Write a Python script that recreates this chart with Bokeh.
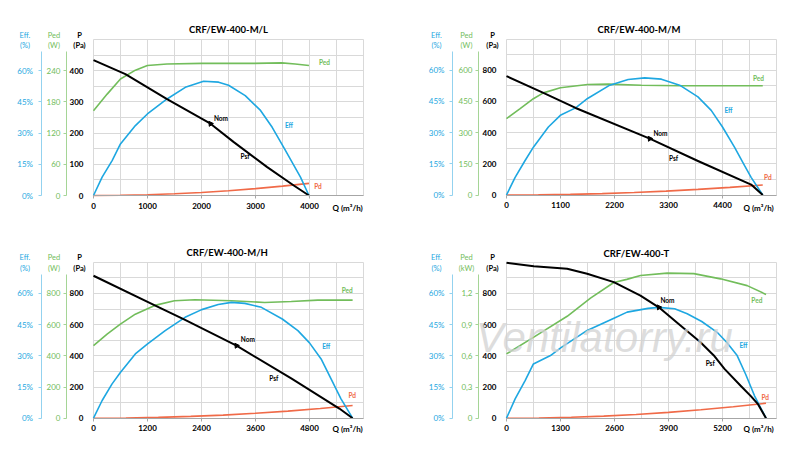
from bokeh.plotting import figure
from bokeh.models import Range1d, LinearAxis, FixedTicker, Label
from bokeh.layouts import column, row
from bokeh.embed import file_html
from bokeh.resources import INLINE

FONT = "Lato"
C_EFF = "#1ea7e1"
C_PED = "#72bd5b"
C_PD = "#f06a48"
C_PSF = "#000000"
GRID = "#d9d9d9"

# ---------------- data ----------------
titles = ["CRF/EW-400-M/L", "CRF/EW-400-M/M", "CRF/EW-400-M/H", "CRF/EW-400-T"]
ped_units = ["(W)", "(W)", "(W)", "(kW)"]

# Chart 1: CRF/EW-400-M/L
c1_q_psf = [0, 591, 1362, 2167, 2598, 3217, 3709, 3990]
c1_psf = [434, 389, 309, 230, 171, 91, 32, 0]
c1_q_eff = [0, 160, 345, 499, 776, 998, 1362, 1700, 2039, 2317, 2501, 2810, 3093, 3309, 3525, 3833, 3990]
c1_eff = [0, 8.8, 16.8, 24.8, 33.6, 39.2, 46.4, 52, 54.9, 54.5, 53, 48, 40.9, 32.8, 23, 8.8, 0]
c1_q_ped = [0, 253, 499, 776, 998, 1362, 2008, 2933, 3487, 3734, 3990]
c1_ped = [163, 195, 224, 241, 250, 253, 254, 254, 255, 253, 250]
c1_q_pd = [0, 500, 1000, 1500, 2000, 2500, 3000, 3500, 3990]
c1_pd = [0, 0.6, 2.4, 5.5, 9.8, 15.2, 22, 30, 39]
c1_nom = [2167, 230]

# Chart 2: CRF/EW-400-M/M
c2_q_psf = [0, 751, 1408, 2918, 3900, 4983, 5220]
c2_psf = [762, 655, 558, 361, 218, 67, 0]
c2_q_eff = [0, 176, 379, 548, 853, 1097, 1408, 1652, 2105, 2478, 2816, 3155, 3527, 3900, 4170, 4400, 4644, 4847, 4983, 5220]
c2_eff = [0, 8.5, 16.6, 23, 32.7, 38.3, 41.9, 46.4, 52.8, 55.5, 56.3, 55.7, 52.8, 47.2, 40.7, 32.7, 23, 14.2, 8.5, 0]
c2_q_ped = [0, 278, 548, 751, 1097, 1652, 2072, 2749, 3527, 5220]
c2_ped = [367, 415, 463, 491, 516, 531, 533, 528, 525, 525]
c2_q_pd = [0, 650, 1300, 1950, 2600, 3250, 3900, 4550, 5220]
c2_pd = [0, 1, 4, 9, 16, 25, 36, 49, 64]
c2_nom = [2918, 361]

# Chart 3: CRF/EW-400-M/H
c3_q_psf = [0, 1386, 2035, 3178, 4394, 5463, 5758]
c3_psf = [913, 720, 630, 465, 255, 62, 0]
c3_q_eff = [0, 192, 413, 597, 929, 1202, 1593, 2035, 2404, 2772, 3067, 3362, 3731, 4195, 4542, 4800, 5058, 5279, 5500, 5758]
c3_eff = [0, 8.5, 16.5, 22, 30.9, 35.7, 42.1, 48.5, 52.2, 54.7, 55.7, 55.2, 53.3, 47.7, 42.1, 36.2, 28.5, 18.9, 9.3, 0]
c3_q_ped = [0, 302, 597, 929, 1386, 1799, 2256, 3067, 3804, 4394, 4984, 5758]
c3_ped = [465, 539, 603, 667, 725, 753, 759, 753, 742, 748, 757, 757]
c3_q_pd = [0, 720, 1440, 2160, 2880, 3600, 4320, 5040, 5758]
c3_pd = [0, 1.3, 5, 11.4, 20, 32, 45.5, 62, 81]
c3_nom = [3178, 465]

# Chart 4: CRF/EW-400-T
c4_q_psf = [0, 657, 1461, 1942, 2583, 3225, 3666, 4188, 4670, 4991, 5248, 5648, 5888, 6048, 6248]
c4_psf = [996, 974, 958, 926, 872, 786, 711, 594, 487, 402, 316, 205, 140, 92, 0]
c4_q_eff = [0, 208, 448, 648, 1059, 1304, 1942, 2600, 2904, 3408, 3666, 4048, 4350, 4700, 5071, 5300, 5553, 5760, 5968, 6248]
c4_eff = [0, 9.3, 18.1, 26.1, 30.1, 33.8, 42.2, 48.2, 51, 52.8, 53.3, 52.6, 50.2, 46.5, 41.3, 36.5, 30.1, 21, 10.9, 0]
c4_q_ped = [0, 657, 1461, 2022, 2583, 2896, 3225, 3868, 4510, 5151, 5794, 6248]
c4_ped = [0.618, 0.78, 0.98, 1.155, 1.305, 1.335, 1.372, 1.395, 1.39, 1.34, 1.275, 1.19]
c4_q_pd = [0, 780, 1560, 2340, 3120, 3900, 4680, 5460, 6248]
c4_pd = [0, 1.5, 6, 13.5, 24, 37.5, 54, 73, 96]
c4_nom = [3666, 711]

# axes (ticks / ranges)
q_max = [5000, 5500, 6000, 6500]
q_ticks = [[0, 1000, 2000, 3000, 4000], [0, 1100, 2200, 3300, 4400],
           [0, 1200, 2400, 3600, 4800], [0, 1300, 2600, 3900, 5200]]
q_step_grid = [500, 550, 600, 650]
p_max = [500, 1000, 1000, 1000]
p_ticks = [[0, 100, 200, 300, 400], [0, 200, 400, 600, 800],
           [0, 200, 400, 600, 800], [0, 200, 400, 600, 800]]
p_step_grid = [50, 100, 100, 100]
ped_max = [300, 750, 1000, 1.5]
ped_ticks = [[0, 60, 120, 180, 240], [0, 150, 300, 450, 600],
             [0, 200, 400, 600, 800], [0, 0.3, 0.6, 0.9, 1.2]]
ped_tick_labels = [["0", "60", "120", "180", "240"], ["0", "150", "300", "450", "600"],
                   ["0", "200", "400", "600", "800"], ["0", "0,3", "0,6", "0,9", "1,2"]]
eff_max = 75
eff_ticks = [0, 15, 30, 45, 60]
eff_tick_labels = ["0%", "15%", "30%", "45%", "60%"]

# ---------------- layout (page pixel positions) ----------------
FW, FH = 270, 156
fig_box = [(0, 0, 400, 225), (400, 0, 392, 225), (0, 225, 400, 218), (400, 225, 392, 218)]
frame_origin = [(93, 195), (506, 194.5), (93, 417.7), (506, 417.7)]   # page x of Q=0, page y of P=0
axis_lines = [(66, 40.5), (478, 452), (66, 40.5), (478, 452)]  # Ped, Eff axis page x
text_pos = [
    dict(title=(228, 28.5), eff=(24.5, 34.5), ped=(53.5, 34.5), p=(79, 34.5), q=(332, 207),
         lped=(324, 62), leff=(288.5, 125), lnom=(220.5, 118), lpsf=(244.5, 156), lpd=(317.5, 185.7)),
    dict(title=(638.5, 29), eff=(436, 34.5), ped=(466, 34.5), p=(492, 34.5), q=(743, 207),
         lped=(758, 77.7), leff=(728, 110), lnom=(660, 133.3), lpsf=(673, 158.3), lpd=(767.3, 176.7)),
    dict(title=(226.7, 251.7), eff=(24.5, 257.3), ped=(53.5, 257.3), p=(79, 257.3), q=(332, 428.3),
         lped=(346.7, 290), leff=(325.7, 345.7), lnom=(247.3, 339), lpsf=(273.3, 377.7), lpd=(351.7, 395)),
    dict(title=(635.8, 253.3), eff=(436, 257.3), ped=(466, 257.3), p=(492, 257.3), q=(743, 428.3),
         lped=(756.3, 300), leff=(743, 345), lnom=(667, 300), lpsf=(709.7, 363.3), lpd=(764.7, 396.7)),
]
UNIT_DY = 10.5

series = [
    (c1_q_psf, c1_psf, c1_q_eff, c1_eff, c1_q_ped, c1_ped, c1_q_pd, c1_pd, c1_nom),
    (c2_q_psf, c2_psf, c2_q_eff, c2_eff, c2_q_ped, c2_ped, c2_q_pd, c2_pd, c2_nom),
    (c3_q_psf, c3_psf, c3_q_eff, c3_eff, c3_q_ped, c3_ped, c3_q_pd, c3_pd, c3_nom),
    (c4_q_psf, c4_psf, c4_q_eff, c4_eff, c4_q_ped, c4_ped, c4_q_pd, c4_pd, c4_nom),
]


def style_axis(ax, color, bold, line_color, tick_color, standoff):
    ax.axis_line_color = line_color
    ax.major_tick_line_color = tick_color
    ax.minor_tick_line_color = None
    ax.major_tick_out = 3
    ax.major_tick_in = 0
    ax.major_label_standoff = standoff
    ax.major_label_text_font = FONT
    ax.major_label_text_font_size = "8px"
    ax.major_label_text_font_style = "bold" if bold else "normal"
    ax.major_label_text_color = color


def make_chart(i):
    ox, oy, w, h = fig_box[i]
    L, B = frame_origin[i]
    qm, pm = q_max[i], p_max[i]

    def dx(px):
        return (px - L) / FW * qm

    def dy(py):
        return (B - py) / FH * pm

    y0, y1 = dy(oy + h), dy(oy)
    p = figure(frame_width=w, frame_height=h,
               x_range=Range1d(dx(ox), dx(ox + w)), y_range=Range1d(y0, y1),
               output_backend="svg", toolbar_location=None,
               min_border_left=0, min_border_right=0, min_border_top=0, min_border_bottom=0,
               outline_line_color=None)
    rp = ped_max[i] / pm
    re = eff_max / pm
    p.extra_y_ranges = {"ped": Range1d(y0 * rp, y1 * rp), "eff": Range1d(y0 * re, y1 * re)}

    # grid limited to the plotting area
    p.xgrid.ticker = FixedTicker(ticks=list(range(0, qm + 1, q_step_grid[i])))
    p.ygrid.ticker = FixedTicker(ticks=list(range(0, pm + 1, p_step_grid[i])))
    p.xgrid.bounds = (0, qm)
    p.xgrid.cross_bounds = (0, pm)
    p.ygrid.bounds = (0, pm)
    p.ygrid.cross_bounds = (0, qm)
    p.xgrid.grid_line_color = GRID
    p.ygrid.grid_line_color = GRID

    # x axis
    xa = p.xaxis[0]
    xa.fixed_location = 0
    xa.bounds = (0, qm)
    xa.ticker = FixedTicker(ticks=q_ticks[i])
    style_axis(xa, "#000000", True, "#a6a6a6", "#a6a6a6", 4)

    # P axis
    ya = p.yaxis[0]
    ya.fixed_location = 0
    ya.bounds = (0, pm)
    ya.ticker = FixedTicker(ticks=p_ticks[i])
    style_axis(ya, "#000000", True, None, None, 7)

    ped_x, eff_x = axis_lines[i]
    top_p = dy(text_pos[i]["eff"][1] + UNIT_DY + 6)

    pa = LinearAxis(y_range_name="ped", ticker=FixedTicker(ticks=ped_ticks[i]),
                    major_label_overrides={t: s for t, s in zip(ped_ticks[i], ped_tick_labels[i])},
                    fixed_location=dx(ped_x), bounds=(0, top_p * rp))
    style_axis(pa, C_PED, False, "#a5d596", "#a5d596", 3)
    p.add_layout(pa, "left")

    ea = LinearAxis(y_range_name="eff", ticker=FixedTicker(ticks=eff_ticks),
                    major_label_overrides={t: s for t, s in zip(eff_ticks, eff_tick_labels)},
                    fixed_location=dx(eff_x), bounds=(0, top_p * re))
    style_axis(ea, C_EFF, False, "#93d2ef", "#93d2ef", 5)
    p.add_layout(ea, "left")

    q_psf, psf, q_eff, eff, q_ped, ped, q_pd, pd_, nom = series[i]
    p.line(q_pd, pd_, line_color=C_PD, line_width=1.6)
    p.line(q_ped, ped, line_color=C_PED, line_width=1.6, y_range_name="ped")
    p.line(q_eff, eff, line_color=C_EFF, line_width=1.6, y_range_name="eff")
    p.line(q_psf, psf, line_color=C_PSF, line_width=2, line_join="round")
    p.scatter([nom[0]], [nom[1]], marker="triangle", size=5, color="#000000", angle=0.6)

    tp = text_pos[i]

    def lab(pos, text, color, size="7px", bold=True, align="center"):
        p.add_layout(Label(x=dx(pos[0]), y=dy(pos[1]), text=text, text_align=align,
                           text_baseline="middle", text_font=FONT, text_font_size=size,
                           text_color=color, text_font_style="bold" if bold else "normal"))

    lab(tp["title"], titles[i], "#000000", size="9.5px")
    lab(tp["eff"], "Eff.", C_EFF, bold=False, size="7.5px")
    lab((tp["eff"][0], tp["eff"][1] + UNIT_DY), "(%)", C_EFF, bold=False, size="7.5px")
    lab(tp["ped"], "Ped", C_PED, bold=False, size="7.5px")
    lab((tp["ped"][0], tp["ped"][1] + UNIT_DY), ped_units[i], C_PED, bold=False, size="7.5px")
    lab(tp["p"], "P", "#000000", size="7.5px")
    lab((tp["p"][0], tp["p"][1] + UNIT_DY), "(Pa)", "#000000", size="7.5px")
    lab(tp["q"], "Q (m³/h)", "#000000", size="8px", align="left")
    lab(tp["lped"], "Ped", C_PED, size="6.5px")
    lab(tp["leff"], "Eff", C_EFF, size="6.5px")
    lab(tp["lnom"], "Nom", "#000000", size="6.5px")
    lab(tp["lpsf"], "Psf", "#000000", size="6.5px")
    lab(tp["lpd"], "Pd", C_PD, size="6.5px")

    if i == 3:
        p.add_layout(Label(x=dx(604), y=dy(337), text="Ventilatorry.ru", text_align="center",
                           text_baseline="alphabetic", text_font="Liberation Sans",
                           text_font_size="42px", text_font_style="italic",
                           text_color="#d2d2d2", text_alpha=0.75))
    return p


figs = [make_chart(i) for i in range(4)]
layout = column(row(figs[0], figs[1]), row(figs[2], figs[3]))
open("out.html", "w").write(file_html(layout, INLINE))
